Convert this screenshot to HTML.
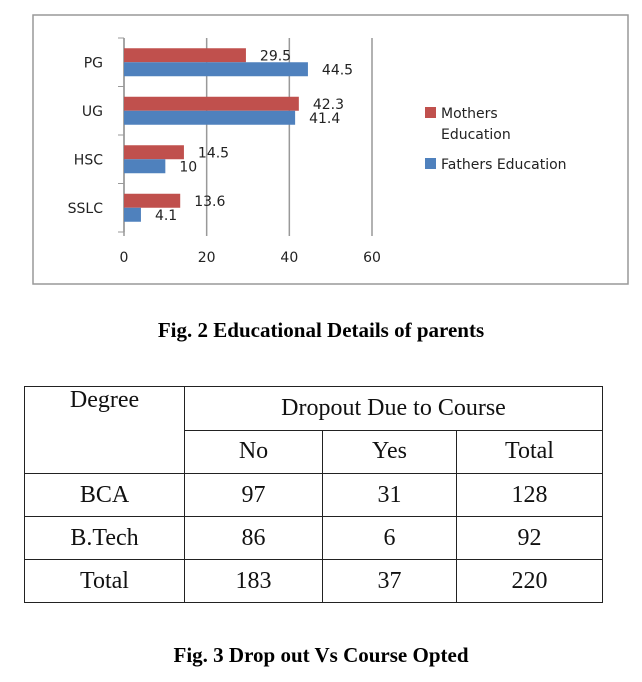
<!DOCTYPE html>
<html><head><meta charset="utf-8">
<style>
body{margin:0;width:642px;height:682px;background:#fff;position:relative;overflow:hidden;font-family:"Liberation Sans",sans-serif}
.cap{position:absolute;left:0;width:642px;text-align:center;font-family:"Liberation Serif",serif;font-weight:bold;font-size:21px}
table{position:absolute;left:24px;top:386px;border-collapse:collapse;font-family:"Liberation Serif",serif;font-size:24px;color:#111}
td{border:1.5px solid #222;text-align:center;padding:0;height:42px}
svg text{font-family:"DejaVu Sans",sans-serif}
</style></head><body>
<svg id="chart" width="642" height="300" style="position:absolute;left:0;top:0"></svg>
<div class="cap" style="top:318px">Fig. 2 Educational Details of parents</div>
<table>
<tr><td rowspan="2" style="width:159px;vertical-align:top;height:86px">Degree</td><td colspan="3">Dropout Due to Course</td></tr>
<tr><td style="width:137px">No</td><td style="width:133px">Yes</td><td style="width:145px">Total</td></tr>
<tr><td>BCA</td><td>97</td><td>31</td><td>128</td></tr>
<tr><td>B.Tech</td><td>86</td><td>6</td><td>92</td></tr>
<tr><td>Total</td><td>183</td><td>37</td><td>220</td></tr>
</table>
<div class="cap" style="top:643px">Fig. 3 Drop out Vs Course Opted</div>
<script>
const categories=["PG","UG","HSC","SSLC"];
const mothers=[29.5,42.3,14.5,13.6];
const fathers=[44.5,41.4,10,4.1];
const ticks=[0,20,40,60];
const svg=document.getElementById('chart');
const NS="http://www.w3.org/2000/svg";
const x0=124,x1=372,yTop=38,yBot=232,max=60;
const X=v=>x0+(v/max)*(x1-x0);
const band=(yBot-yTop)/categories.length;
function add(tag,attrs,text){const e=document.createElementNS(NS,tag);for(const k in attrs)e.setAttribute(k,attrs[k]);if(text!==undefined)e.textContent=text;svg.appendChild(e);return e;}
let f=add('rect',{x:33,y:15,width:595,height:269,fill:'none',stroke:'#999','stroke-width':1.5});


ticks.forEach(t=>{
 let g=add('line',{x1:X(t),x2:X(t),y1:yTop,y2:yBot+4,stroke:'#999','stroke-width':1.5});
 
 
 let l=add('text',{x:X(t),y:262,'text-anchor':'middle','font-size':14,fill:'#222'},t);
 
 
});
add('line',{x1:x0,x2:x0,y1:yTop,y2:yBot,stroke:'#999','stroke-width':1.5});
categories.forEach((c,i)=>{
 const y=yTop+i*band;
 add('line',{x1:x0-6,x2:x0,y1:y,y2:y,stroke:'#999'});
 let cl=add('text',{x:103,y:y+band/2+5,'text-anchor':'end','font-size':14,fill:'#222'},c);
 
 
 const h=14,ym=y+band/2-h;
 let r=add('rect',{x:x0,y:ym,width:X(mothers[i])-x0,height:h,fill:'#c0504d'});
 
 
 let b=add('rect',{x:x0,y:ym+h,width:X(fathers[i])-x0,height:h,fill:'#4f81bd'});
 
 
 let t1=add('text',{x:X(mothers[i])+14,y:ym+12,'font-size':14,fill:'#222'},mothers[i]);
 
 
 let t2=add('text',{x:X(fathers[i])+14,y:ym+h+12,'font-size':14,fill:'#222'},fathers[i]);
 
 
});
add('line',{x1:x0-6,x2:x0,y1:yBot,y2:yBot,stroke:'#999'});
let lm=add('rect',{x:425,y:107,width:11,height:11,fill:'#c0504d'});


add('text',{x:441,y:118,'font-size':14,fill:'#222'},'Mothers');
add('text',{x:441,y:139,'font-size':14,fill:'#222'},'Education');
let lf=add('rect',{x:425,y:158,width:11,height:11,fill:'#4f81bd'});


add('text',{x:441,y:169,'font-size':14,fill:'#222'},'Fathers Education');
</script>
</body></html>
